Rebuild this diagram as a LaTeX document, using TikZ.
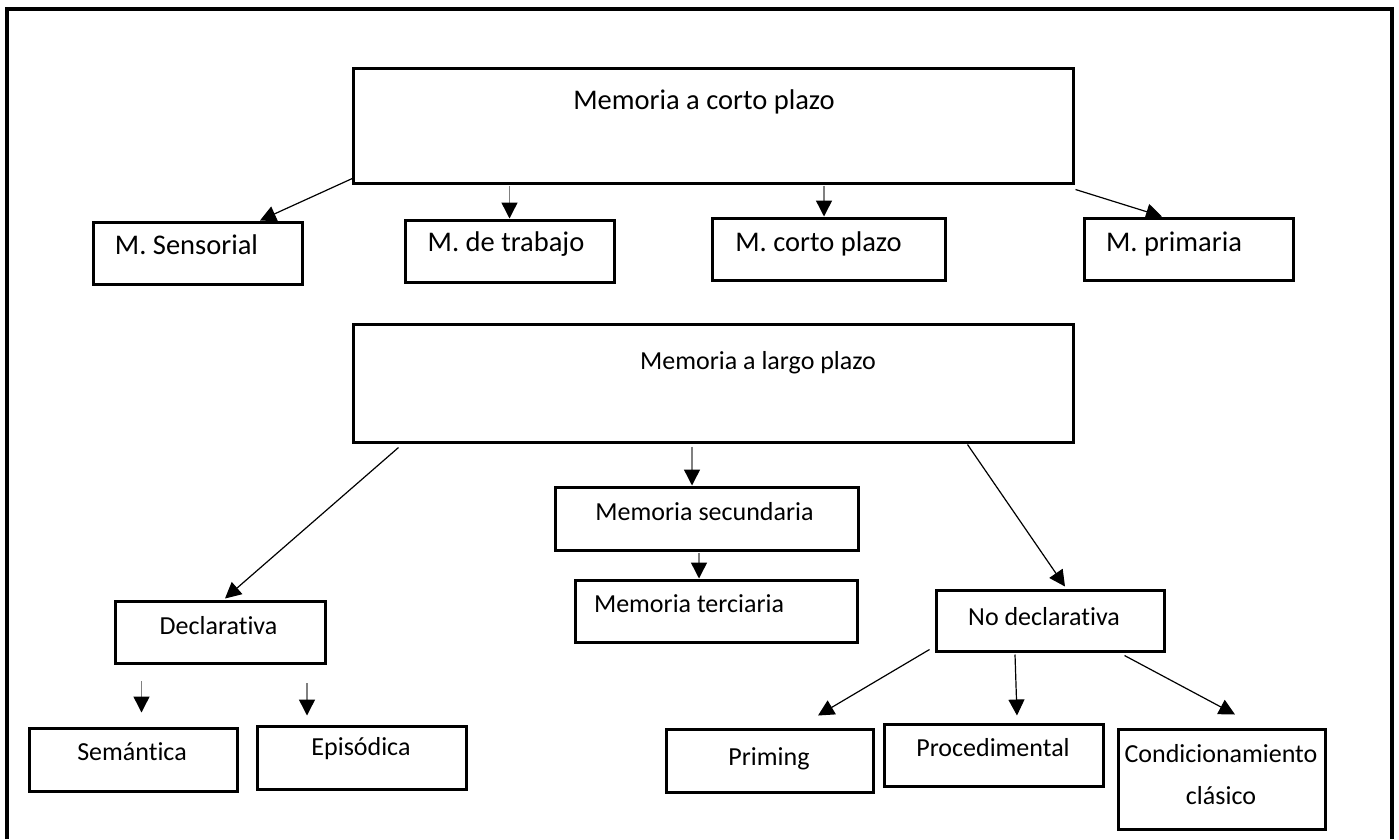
\documentclass[tikz,border=0pt]{standalone}
\usepackage{fontspec}
\setmainfont{Carlito}[Ligatures=NoCommon]
\usetikzlibrary{arrows.meta,calc}
\tikzset{
  box/.style={draw=black, line width=3pt, rectangle, inner sep=0pt},
  big/.style={font=\fontsize{28.5}{34}\selectfont, inner sep=0pt, text height=0.7em, text depth=0.22em},
  txt/.style={font=\fontsize{26}{42}\selectfont, inner sep=0pt, text height=0.7em, text depth=0.22em},
  arr/.style={draw=black, line width=1.2pt, -{Triangle[width=16pt,length=16pt]}},
  garr/.style={draw=gray, line width=1.4pt, -{Triangle[width=16pt,length=16pt,fill=black,color=black]}},
}
\begin{document}
\begin{tikzpicture}[x=1pt,y=-1pt]
\useasboundingbox (0,0) rectangle (1399,839);
% outer frame (no bottom edge)
\draw[line width=3.5pt] (7,839) -- (7,9) -- (1392,9) -- (1392,839);

% boxes
\node[box, minimum width=720pt, minimum height=115pt] (top) at (713,125.5) {};
\node[box, minimum width=209pt, minimum height=62pt] (sens) at (197.5,253) {};
\node[box, minimum width=209pt, minimum height=62pt] (trab) at (509.5,251) {};
\node[box, minimum width=233pt, minimum height=62pt] (corto) at (828.5,249) {};
\node[box, minimum width=209pt, minimum height=62pt] (prim) at (1188.5,249) {};
\node[box, minimum width=720pt, minimum height=118pt] (largo) at (713,383) {};
\node[box, minimum width=303pt, minimum height=63pt] (sec) at (706.5,518.5) {};
\node[box, minimum width=282pt, minimum height=62pt] (ter) at (716,611) {};
\node[box, minimum width=228pt, minimum height=61pt] (nodecl) at (1050,620.5) {};
\node[box, minimum width=210pt, minimum height=62pt] (decl) at (220,632) {};
\node[box, minimum width=208pt, minimum height=63pt] (sem) at (133,759.5) {};
\node[box, minimum width=209pt, minimum height=63pt] (epi) at (361.5,757.5) {};
\node[box, minimum width=207pt, minimum height=63pt] (priming) at (770,760.5) {};
\node[box, minimum width=219pt, minimum height=62pt] (proc) at (993.5,755) {};
\node[box, minimum width=207pt, minimum height=100pt] (cond) at (1221.5,779) {};

% texts
\node[big] (ttop) at (704,107) {Memoria a corto plazo};
\node[big] (tsens) at (186.5,252) {M. Sensorial};
\node[big] (ttrab) at (506,249) {M. de trabajo};
\node[big] (tcorto) at (818.5,249) {M. corto plazo};
\node[big] (tprim) at (1174,249) {M. primaria};
\node[txt] (tlargo) at (758,367) {Memoria a largo plazo};
\node[txt] (tsec) at (704.5,518) {Memoria secundaria};
\node[txt] (tter) at (689,610) {Memoria terciaria};
\node[txt] (tnodecl) at (1044,623) {No declarativa};
\node[txt] (tdecl) at (218.5,632) {Declarativa};
\node[txt] (tsem) at (132,758) {Semántica};
\node[txt] (tepi) at (361,753) {Episódica};
\node[txt] (tpriming) at (769,763) {Priming};
\node[txt] (tproc) at (993,754) {Procedimental};
\node[txt] (tcond1) at (1221,760) {Condicionamiento};
\node[txt] (tcond2) at (1221,802) {clásico};

% helper coordinates on box tops
\coordinate (cN) at ([xshift=-4.5pt]corto.north);
\coordinate (sN) at ([xshift=-14.5pt]sec.north);
\coordinate (tN) at ([xshift=-17pt]ter.north);

% connectors, short-term
\draw[arr] ([xshift=3pt,yshift=7pt]top.south west) -- ([xshift=62.5pt]sens.north);
\draw[garr] ($(top.south -| trab.north)+(0,1)$) -- (trab.north);
\draw[garr] ($(top.south -| cN)+(0,1)$) -- (cN);
\draw[arr] ([xshift=1pt,yshift=-5pt]top.south east) -- ([xshift=-26.5pt]prim.north);

% connectors, long-term
\draw[arr] ([xshift=47pt,yshift=-4pt]largo.south west) -- ([xshift=5pt,yshift=1pt]decl.north);
\draw[garr] ($(largo.south -| sN)+(0,3)$) -- (sN);
\draw[garr] ($(sec.south -| tN)+(0,1)$) -- (tN);
\draw[arr] ([xshift=-107pt,yshift=-1pt]largo.south east) -- ([xshift=15pt,yshift=2pt]nodecl.north);

% declarativa sub-arrows (free standing)
\coordinate (d1s) at (141.5,681);
\coordinate (d2s) at (307,683);
\draw[garr] (d1s) -- ([xshift=8.5pt,yshift=14pt]sem.north);
\draw[garr] (d2s) -- ([xshift=-54.5pt,yshift=9pt]epi.north);

% no declarativa sub-arrows
\draw[arr] ([xshift=-5pt,yshift=3pt]nodecl.south west) -- ([xshift=48pt,yshift=12pt]priming.north);
\draw[arr] ([xshift=-35pt,yshift=-2pt]nodecl.south) -- ([xshift=23.5pt,yshift=7pt]proc.north);
\draw[arr] ([xshift=-41pt,yshift=-3pt]nodecl.south east) -- ([xshift=13.5pt,yshift=13pt]cond.north);
\end{tikzpicture}
\end{document}
